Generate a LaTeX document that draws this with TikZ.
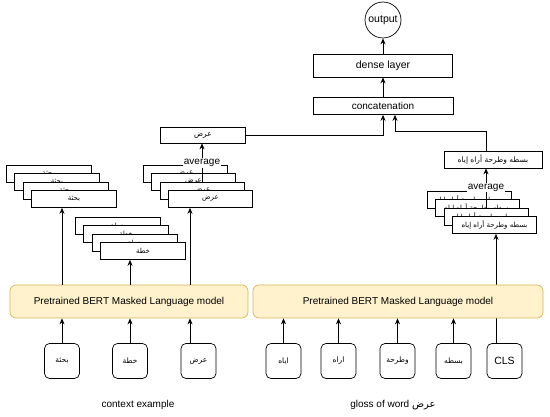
\documentclass[tikz,border=0pt]{standalone}
\usepackage{fontspec}
\setmainfont{Liberation Sans}
\newfontfamily\arabicfont[Script=Arabic]{DejaVu Sans}
\TeXXeTstate=1
\usetikzlibrary{arrows.meta,calc}
\newcommand{\ar}[1]{{\arabicfont\beginR #1\endR}}
\definecolor{bertfill}{HTML}{FFF2CC}
\definecolor{bertdraw}{HTML}{D6B656}
\begin{document}
\begin{tikzpicture}[x=1pt,y=-1pt,
  line width=0.7pt,
  every node/.style={inner sep=0pt},
  box/.style={draw, fill=white, font=\fontsize{10}{12}\selectfont},
  abox/.style={draw, fill=white, font=\fontsize{7.5}{9}\selectfont},
  sbox/.style={draw, fill=white, minimum width=85pt, minimum height=17pt, font=\fontsize{7}{8}\selectfont},
  inbox/.style={draw, fill=white, rounded corners=5pt, minimum width=35pt, minimum height=35pt, font=\fontsize{7.5}{9}\selectfont},
  bert/.style={draw=bertdraw, fill=bertfill, rounded corners=6pt, minimum height=33pt, font=\fontsize{10}{12}\selectfont},
  arr/.style={-{Stealth[length=6pt,width=5pt]}},
  lbl/.style={fill=white, font=\fontsize{10}{12}\selectfont, inner sep=1pt},
  captext/.style={font=\fontsize{10}{12}\selectfont}
]
\useasboundingbox (0,0) rectangle (550,417);

% top
\node[draw, circle, minimum size=36pt, font=\fontsize{10.5}{12}\selectfont] (out) at (383,20) {output};
\node[box, minimum width=139pt, minimum height=23pt, font=\fontsize{10.5}{12}\selectfont] (dense) at (383,65.5) {dense layer};
\node[box, minimum width=140pt, minimum height=17pt] (concat) at (383,106) {concatenation};
\node[abox, minimum width=85pt, minimum height=16pt] (avgL) at (203,135) {\ar{عرض}};
\node[abox, minimum width=98pt, minimum height=17pt] (avgR) at (493,159.5) {\ar{بسطه وطرحة أراه إياه}};

% inputs
\node[inbox] (in1) at (62,361) {\ar{بحثة}};
\node[inbox] (in2) at (130,361) {\ar{خطة}};
\node[inbox] (in3) at (198.5,361) {\ar{عرض}};
\node[inbox] (g1) at (283.5,361) {\ar{اياه}};
\node[inbox] (g2) at (338.5,361) {\ar{اراه}};
\node[inbox] (g3) at (397.5,361) {\ar{وطرحة}};
\node[inbox] (g4) at (453.5,361) {\ar{بسطه}};
\node[inbox, font=\fontsize{10.5}{12}\selectfont] (cls) at (504.5,361) {CLS};

% stacks
\foreach \i in {1,...,4} \node[sbox] (A\i) at ({40+8.5*\i},{165+8.5*\i}) {\ar{بحثة}};
\foreach \i in {1,...,4} \node[sbox] (B\i) at ({109+8.5*\i},{217+8.5*\i}) {\ar{خطة}};
\foreach \i in {1,...,4} \node[sbox, minimum width=84pt] (C\i) at ({176.5+8.5*\i},{165+8.5*\i}) {\ar{عرض}};
\foreach \i in {1,...,4} \node[sbox, minimum width=84pt] (D\i) at ({460.5+8.5*\i},{191+8.5*\i}) {\ar{بسطه وطرحة أراه إياه}};

% CLS line behind BERT
\draw[arr] ([xshift=-8.5pt]cls.north) -- ([xshift=-8.5pt]cls.north |- D4.south);

% BERT
\node[bert, minimum width=238pt] (bertL) at (129,301.5) {Pretrained BERT Masked Language model};
\node[bert, minimum width=290pt] (bertR) at (398,301.5) {Pretrained BERT Masked Language model};

% input arrows
\draw[arr] (in1.north) -- (in1.north |- bertL.south);
\draw[arr] (in2.north) -- (in2.north |- bertL.south);
\draw[arr] ([xshift=-8.5pt]in3.north) -- ([xshift=-8.5pt]in3.north |- bertL.south);
\foreach \g in {g1,g2,g3,g4} \draw[arr] (\g.north) -- (\g.north |- bertR.south);

% BERT to stacks
\draw[arr] (in1.north |- bertL.north) -- (in1.north |- A4.south);
\draw[arr] (in2.north |- bertL.north) -- (in2.north |- B4.south);
\draw[arr] ([xshift=-8.5pt]in3.north |- bertL.north) -- ([xshift=-8.5pt]in3.north |- C4.south);

% averages
\draw[arr] (C3.north) -- (C3.north |- avgL.south);
\node[lbl] (avL) at (C3.north |- 0,163) {average};
\draw[arr] (D3.north) -- (D3.north |- avgR.south);
\node[lbl] (avR) at (D3.north |- 0,187.5) {average};

% to concat
\draw[arr] (avgL.east) -| (concat.south);
\draw[arr] (D3.north |- avgR.north) -- ++(0,-19) -| ([xshift=12pt]concat.south);
\draw[arr] (concat.north) -- (dense.south);
\draw[arr] (dense.north) -- (out.south);

% captions
\node[captext] (c1) at (138,405) {context example};
\node[captext] (c2) at (393,405) {gloss of word \ar{عرض}};
\end{tikzpicture}
\end{document}
